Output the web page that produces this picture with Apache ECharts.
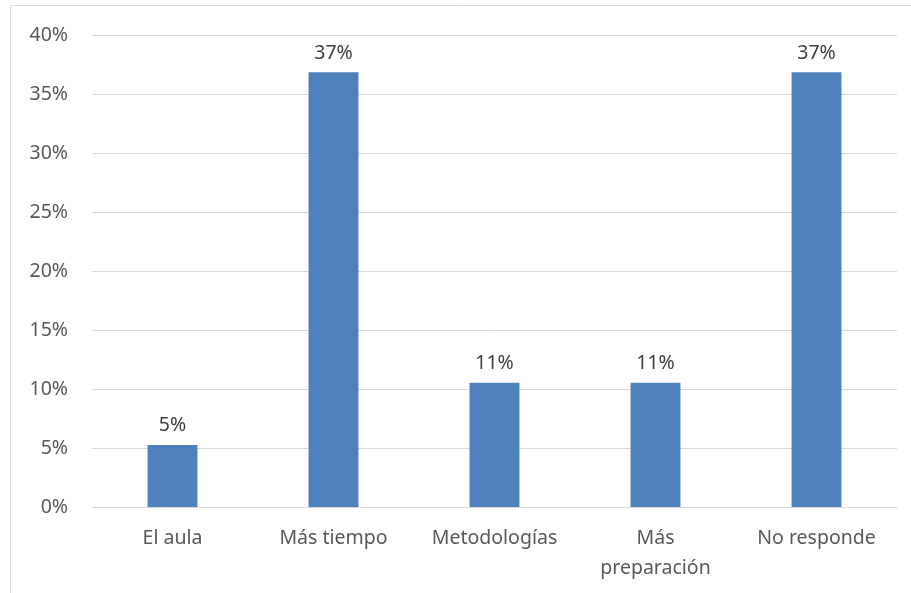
<!DOCTYPE html>
<html><head><meta charset="utf-8">
<script src="https://cdn.jsdelivr.net/npm/echarts@6/dist/echarts.min.js"></script>
<style>html,body{margin:0;padding:0;background:#fff}#c{width:911px;height:593px}</style>
</head><body><div id="c"></div>
<script>
const categories = ['El aula', 'Más tiempo', 'Metodologías', 'Más\npreparación', 'No responde'];
const values = [1/19, 7/19, 2/19, 2/19, 7/19];
const yTicks = [0, 0.05, 0.10, 0.15, 0.20, 0.25, 0.30, 0.35, 0.40];

const chart = echarts.init(document.getElementById('c'));
const font = 'Noto Sans';
chart.setOption({
  animation: false,
  graphic: [{type:'rect', shape:{x:10.5,y:5.5,width:1000,height:1000}, style:{fill:'none', stroke:'#d9d9d9', lineWidth:1}}],
  grid: {left: 92, right: 14, top: 35, bottom: 86},
  xAxis: {
    type: 'category', data: categories,
    axisLine: {lineStyle: {color: '#d9d9d9'}},
    axisTick: {show: false},
    axisLabel: {color: '#595959', fontSize: 19.5, fontFamily: font, margin: 16, lineHeight: 30, interval: 0, hideOverlap: false}
  },
  yAxis: {
    type: 'value', min: yTicks[0], max: yTicks[yTicks.length-1], interval: 0.05,
    axisLine: {show: false}, axisTick: {show: false},
    splitLine: {lineStyle: {color: '#d9d9d9', width: 1}},
    axisLabel: {color: '#595959', fontSize: 19.5, fontFamily: font, margin: 24,
      formatter: v => Math.round(v*100) + '%'}
  },
  series: [{
    type: 'bar', data: values, barWidth: '31%',
    itemStyle: {color: '#4f81bd'},
    label: {show: true, position: 'top', distance: 9, color: '#404040', fontSize: 19.5, fontFamily: font,
      formatter: p => Math.round(p.value*100) + '%'}
  }]
});
</script></body></html>
